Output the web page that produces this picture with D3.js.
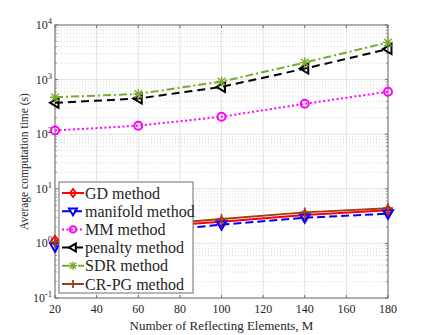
<!DOCTYPE html>
<meta charset="utf-8">
<html>
<head>
<script src="https://d3js.org/d3.v7.min.js"></script>
<style>
  body { margin: 0; background: #fff; }
  text { font-family: "Liberation Serif", "Times New Roman", serif; fill: #262626; }
</style>
</head>
<body>
<script>
// data
var elements = [20, 60, 100, 140, 180];
var gdTime = [1.12, 1.95, 2.5, 3.3, 4.05];
var manifoldTime = [0.87, 1.6, 2.2, 2.95, 3.5];
var mmTime = [117, 143, 209, 360, 600];
var penaltyTime = [375, 450, 735, 1590, 3630];
var sdrTime = [475, 547, 920, 2050, 4800];
var crpgTime = [1.05, 2.1, 2.8, 3.7, 4.4];

var xTicks = [20, 40, 60, 80, 100, 120, 140, 160, 180];
var yExps = [-1, 0, 1, 2, 3, 4];

var series = [
  { name: "GD method", values: gdTime, color: "#ff0000", dash: null, marker: "diamond" },
  { name: "manifold method", values: manifoldTime, color: "#0000ff", dash: "8,4", marker: "down" },
  { name: "MM method", values: mmTime, color: "#ff00ff", dash: "2,2.5", marker: "circle" },
  { name: "penalty method", values: penaltyTime, color: "#000000", dash: "8,5", marker: "left" },
  { name: "SDR method", values: sdrTime, color: "#77ac30", dash: "8,3,2,3", marker: "star" },
  { name: "CR-PG method", values: crpgTime, color: "#a0401a", dash: null, marker: "plus" }
];

var W = 429, H = 335;
var m = { left: 55, right: 41, top: 25, bottom: 37 };

var svg = d3.select("body").append("svg").attr("width", W).attr("height", H);

var x = d3.scaleLinear().domain([20, 180]).range([m.left, W - m.right]);
var y = d3.scaleLog().domain([0.1, 10000]).range([H - m.bottom, m.top]);

var plot = svg.append("g");

// minor grid (dotted)
var minors = [];
yExps.slice(0, -1).forEach(function (e) {
  for (var k = 2; k <= 9; k++) minors.push(k * Math.pow(10, e));
});
plot.selectAll(".minor").data(minors).enter().append("line")
  .attr("x1", x(20)).attr("x2", x(180))
  .attr("y1", function (d) { return y(d); }).attr("y2", function (d) { return y(d); })
  .attr("stroke", "#cfcfcf").attr("stroke-width", 0.8).attr("stroke-dasharray", "1,2");

// major grid
plot.selectAll(".gx").data(xTicks).enter().append("line")
  .attr("x1", function (d) { return x(d); }).attr("x2", function (d) { return x(d); })
  .attr("y1", y(0.1)).attr("y2", y(10000))
  .attr("stroke", "#e3e3e3").attr("stroke-width", 1);
plot.selectAll(".gy").data(yExps).enter().append("line")
  .attr("x1", x(20)).attr("x2", x(180))
  .attr("y1", function (d) { return y(Math.pow(10, d)); }).attr("y2", function (d) { return y(Math.pow(10, d)); })
  .attr("stroke", "#e3e3e3").attr("stroke-width", 1);

// axes box
var axCol = "#6e6e6e";
plot.append("rect")
  .attr("x", x(20)).attr("y", y(10000))
  .attr("width", x(180) - x(20)).attr("height", y(0.1) - y(10000))
  .attr("fill", "none").attr("stroke", axCol).attr("stroke-width", 1);

// ticks (inside, both sides)
xTicks.forEach(function (t) {
  plot.append("line").attr("x1", x(t)).attr("x2", x(t)).attr("y1", y(0.1)).attr("y2", y(0.1) - 3).attr("stroke", axCol);
  plot.append("line").attr("x1", x(t)).attr("x2", x(t)).attr("y1", y(10000)).attr("y2", y(10000) + 3).attr("stroke", axCol);
});
yExps.forEach(function (e) {
  var v = Math.pow(10, e);
  plot.append("line").attr("x1", x(20)).attr("x2", x(20) + 3).attr("y1", y(v)).attr("y2", y(v)).attr("stroke", axCol);
  plot.append("line").attr("x1", x(180)).attr("x2", x(180) - 3).attr("y1", y(v)).attr("y2", y(v)).attr("stroke", axCol);
});
minors.forEach(function (v) {
  plot.append("line").attr("x1", x(20)).attr("x2", x(20) + 2).attr("y1", y(v)).attr("y2", y(v)).attr("stroke", axCol).attr("stroke-width", 0.7);
  plot.append("line").attr("x1", x(180)).attr("x2", x(180) - 2).attr("y1", y(v)).attr("y2", y(v)).attr("stroke", axCol).attr("stroke-width", 0.7);
});

// tick labels
svg.selectAll(".xl").data(xTicks).enter().append("text")
  .attr("x", function (d) { return x(d); }).attr("y", y(0.1) + 15)
  .attr("text-anchor", "middle").style("font-size", "12px")
  .text(function (d) { return d; });

yExps.forEach(function (e) {
  var t = svg.append("text")
    .attr("x", x(20) - 3).attr("y", y(Math.pow(10, e)) + 4)
    .attr("text-anchor", "end").style("font-size", "12px");
  t.append("tspan").text("10");
  t.append("tspan").attr("dy", -5).style("font-size", "8.5px").text(e);
});

// axis titles
svg.append("text")
  .attr("x", (x(20) + x(180)) / 2).attr("y", H - 5)
  .attr("text-anchor", "middle").style("font-size", "13px")
  .text("Number of Reflecting Elements, M");
svg.append("text")
  .attr("transform", "translate(28," + ((y(0.1) + y(10000)) / 2) + ") rotate(-90)")
  .attr("text-anchor", "middle").style("font-size", "11.5px")
  .text("Average computation time (s)");

// markers
function drawMarker(g, type, cx, cy, color, s) {
  s = s || 5;
  if (type === "diamond") {
    g.append("path").attr("d", "M" + cx + "," + (cy - s) + "L" + (cx + s * 0.75) + "," + cy + "L" + cx + "," + (cy + s) + "L" + (cx - s * 0.75) + "," + cy + "Z")
      .attr("fill", "none").attr("stroke", color).attr("stroke-width", 1.8);
  } else if (type === "down") {
    g.append("path").attr("d", "M" + (cx - s) + "," + (cy - s * 0.7) + "L" + (cx + s) + "," + (cy - s * 0.7) + "L" + cx + "," + (cy + s) + "Z")
      .attr("fill", "none").attr("stroke", color).attr("stroke-width", 2);
  } else if (type === "left") {
    g.append("path").attr("d", "M" + (cx + s * 0.7) + "," + (cy - s) + "L" + (cx + s * 0.7) + "," + (cy + s) + "L" + (cx - s) + "," + cy + "Z")
      .attr("fill", "none").attr("stroke", color).attr("stroke-width", 2);
  } else if (type === "circle") {
    g.append("circle").attr("cx", cx).attr("cy", cy).attr("r", s * 0.8)
      .attr("fill", "none").attr("stroke", color).attr("stroke-width", 2);
  } else if (type === "plus") {
    g.append("path").attr("d", "M" + (cx - s) + "," + cy + "H" + (cx + s) + "M" + cx + "," + (cy - s) + "V" + (cy + s))
      .attr("stroke", color).attr("stroke-width", 1.8);
  } else if (type === "star") {
    var r = s * 0.75;
    g.append("path").attr("d", "M" + (cx - r) + "," + (cy - r) + "L" + (cx + r) + "," + (cy + r) + "M" + (cx + r) + "," + (cy - r) + "L" + (cx - r) + "," + (cy + r) + "M" + (cx - s) + "," + cy + "H" + (cx + s) + "M" + cx + "," + (cy - s) + "V" + (cy + s))
      .attr("stroke", color).attr("stroke-width", 1.4);
  }
}

var line = d3.line().x(function (d, i) { return x(elements[i]); }).y(function (d) { return y(d); });

series.forEach(function (s) {
  var g = svg.append("g");
  g.append("path").datum(s.values).attr("d", line)
    .attr("fill", "none").attr("stroke", s.color).attr("stroke-width", 2)
    .attr("stroke-dasharray", s.dash);
  s.values.forEach(function (v, i) {
    drawMarker(g, s.marker, x(elements[i]), y(v), s.color);
  });
});

// legend
var lg = svg.append("g").attr("transform", "translate(59,182)");
lg.append("rect").attr("width", 134).attr("height", 111)
  .attr("fill", "#fff").attr("stroke", "#6e6e6e").attr("stroke-width", 1);
series.forEach(function (s, i) {
  var yy = 11 + i * 18.2;
  lg.append("line").attr("x1", 3).attr("x2", 25).attr("y1", yy).attr("y2", yy)
    .attr("stroke", s.color).attr("stroke-width", 2).attr("stroke-dasharray", s.dash);
  drawMarker(lg, s.marker, 14, yy, s.color, 4);
  lg.append("text").attr("x", 26).attr("y", yy + 5.5).style("font-size", "16px").text(s.name);
});
</script>
</body>
</html>
